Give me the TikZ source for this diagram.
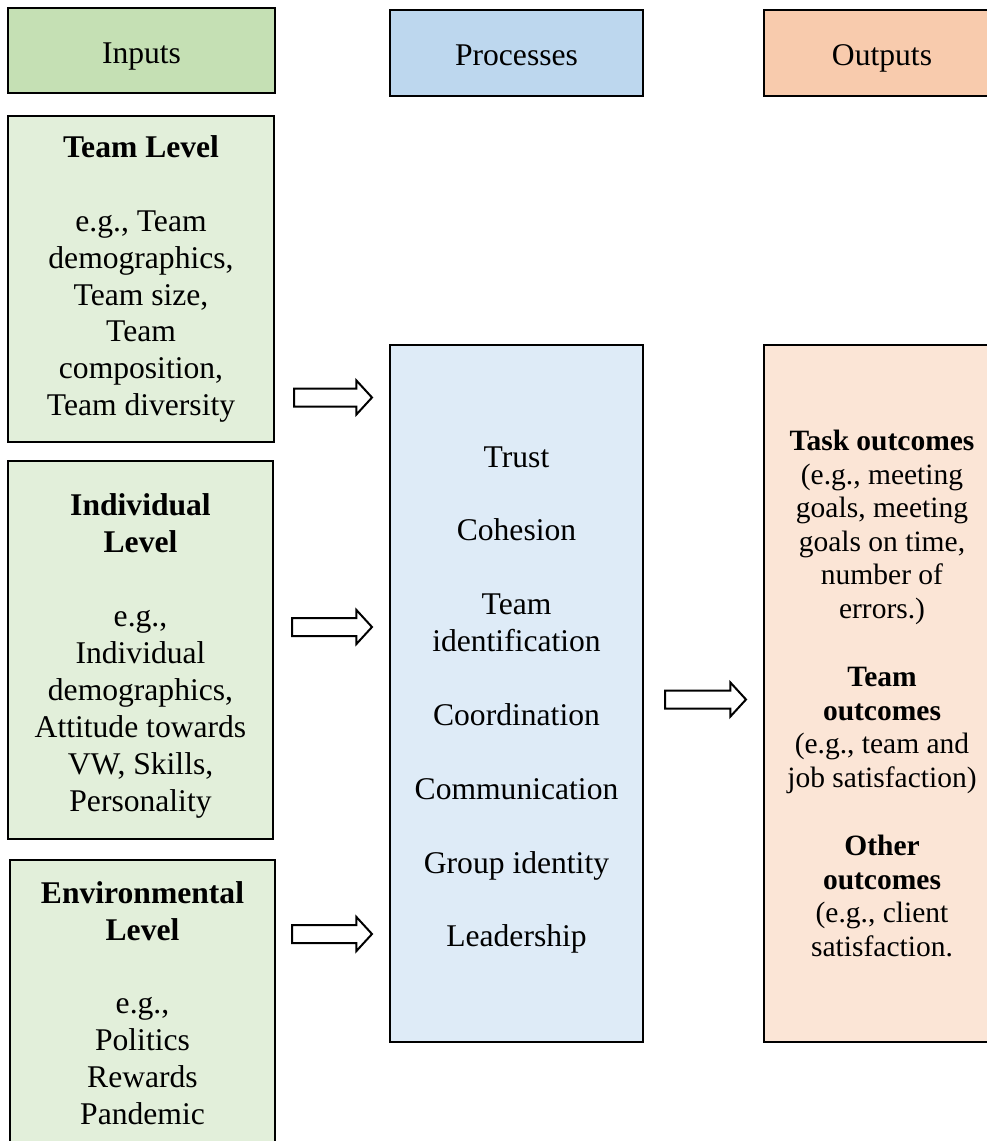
\documentclass[tikz,border=0pt]{standalone}
\usepackage{fontspec}
\setmainfont{Liberation Serif}
\usetikzlibrary{shapes.arrows,calc}
\definecolor{inHead}{HTML}{C5E0B4}
\definecolor{inBody}{HTML}{E2EFDA}
\definecolor{prHead}{HTML}{BDD7EE}
\definecolor{prBody}{HTML}{DEEBF7}
\definecolor{outHead}{HTML}{F8CBAD}
\definecolor{outBody}{HTML}{FBE5D6}
\begin{document}
\begin{tikzpicture}[x=1pt,y=-1pt,
  box/.style={draw=black, line width=2.2pt, inner sep=0pt},
  txt/.style={align=center, inner sep=0pt, font=\fontsize{31.6}{36.9}\selectfont},
  headtxt/.style={txt, text height=25.8pt, text depth=0pt},
  outtext/.style={txt, font=\fontsize{29.5}{33.5}\selectfont},
  blockarrow/.style={single arrow, draw=black, line width=2pt, fill=white,
    minimum width=32pt, single arrow head extend=8pt,
    single arrow tip angle=95, inner sep=8pt, outer sep=0pt, anchor=tail}
]
\clip (0,0) rectangle (987,1141);

% column headers
\node[box, fill=inHead,  minimum width=267pt, minimum height=85pt] (hin)  at (141.5,50.5) {};
\node[box, fill=prHead,  minimum width=253pt, minimum height=86pt] (hpr)  at (516.5,53) {};
\node[box, fill=outHead, minimum width=236pt, minimum height=86pt] (hout) at (882,53) {};
\node[headtxt] (hinT)  at (hin.center)  {Inputs};
\node[headtxt] (hprT)  at (hpr.center)  {Processes};
\node[headtxt] (houtT) at (hout.center) {Outputs};

% input levels
\node[box, fill=inBody, minimum width=266pt, minimum height=326pt] (team)  at (141,279) {};
\node[box, fill=inBody, minimum width=265pt, minimum height=378pt] (indiv) at (140.5,650) {};
\node[box, fill=inBody, minimum width=265pt, minimum height=286pt] (env)   at (142.5,1003) {};
\node[txt] (teamT) at (team.center)
  {\textbf{Team Level}\\[36.9pt] e.g., Team\\ demographics,\\ Team size,\\ Team\\ composition,\\ Team diversity};
\node[txt] (indivT) at ($(indiv.center)+(0,6)$)
  {\textbf{Individual}\\ \textbf{Level}\\[36.9pt] e.g.,\\ Individual\\ demographics,\\ Attitude towards\\ VW, Skills,\\ Personality};
\node[txt] (envT) at (env.center)
  {\textbf{Environmental}\\ \textbf{Level}\\[36.9pt] e.g.,\\ Politics\\ Rewards\\ Pandemic};

% processes
\node[box, fill=prBody, minimum width=253pt, minimum height=697pt] (proc) at (516.5,693.5) {};
\node[txt] (procT) at ($(proc.center)+(0,6.5)$)
  {Trust\\[36.9pt] Cohesion\\[36.9pt] Team\\ identification\\[36.9pt] Coordination\\[36.9pt]
   Communication\\[36.9pt] Group identity\\[36.9pt] Leadership};

% outputs
\node[box, fill=outBody, minimum width=236pt, minimum height=697pt] (out) at (882,693.5) {};
\node[outtext] (outT) at (out.center)
  {\textbf{Task outcomes}\\ (e.g., meeting\\ goals, meeting\\ goals on time,\\ number of\\ errors.)\\[35pt]
   \textbf{Team}\\ \textbf{outcomes}\\ (e.g., team and\\ job satisfaction)\\[35pt]
   \textbf{Other}\\ \textbf{outcomes}\\ (e.g., client\\ satisfaction.};

% hollow block arrows between the columns
\node[blockarrow, minimum height=78pt] (a1) at (294,397.5) {};
\node[blockarrow, minimum height=80pt] (a2) at (292,627) {};
\node[blockarrow, minimum height=80pt] (a3) at (292,934) {};
\node[blockarrow, minimum height=81pt] (a4) at (665,699.5) {};
\end{tikzpicture}
\end{document}
